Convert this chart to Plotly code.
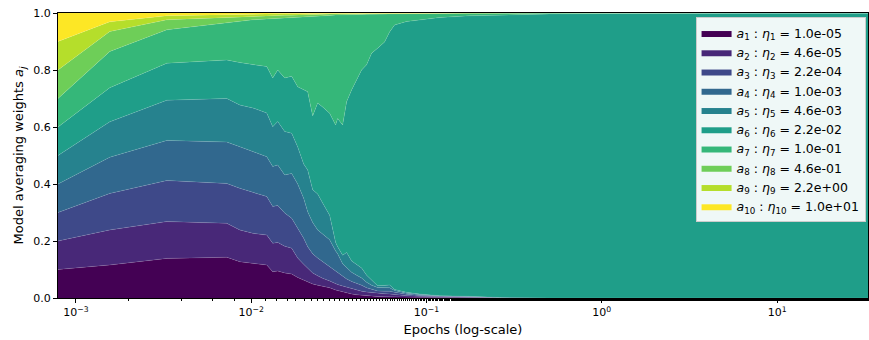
import math
import plotly.graph_objects as go

# Epochs (x positions of the sampled weights)
epochs = [0.00079, 0.00156, 0.0033, 0.00725, 0.0086, 0.0102, 0.01226, 0.01326, 0.01416, 0.01552,
          0.01701, 0.01841, 0.01991, 0.02099, 0.02241, 0.02393, 0.02555, 0.02801, 0.0303, 0.03111,
          0.03322, 0.03501, 0.03738, 0.03993, 0.04263, 0.04551, 0.0486, 0.05257, 0.05763, 0.06154,
          0.06572, 0.07691, 0.09123, 0.1186, 0.1758, 0.2606, 0.5023, 1.258, 3.594, 33.0]

a1 = [.1, .116, .139, .143, .127, .122, .116, .092, .095, .088, .084, .072, .063, .057, .049, .045, .042, .036, .028, .026,
      .021, .018, .014, .011, .009, .008, .006, .005, .004, .004, .004, .003, .002, .002, .001, .0005, .0, .0, .0, .0]
a2 = [.1, .123, .129, .119, .112, .105, .105, .100, .100, .094, .091, .068, .055, .047, .039, .033, .027, .024, .022, .021,
      .021, .020, .018, .017, .015, .013, .013, .011, .011, .010, .008, .005, .004, .002, .002, .0005, .0, .0, .0, .0]
a3 = [.1, .128, .144, .140, .146, .143, .135, .129, .130, .116, .105, .105, .092, .076, .067, .062, .058, .050, .046, .043,
      .033, .029, .026, .024, .021, .015, .011, .009, .009, .010, .008, .005, .003, .002, .001, .0005, .0, .0, .0, .0]
a4 = [.1, .127, .141, .145, .146, .143, .140, .140, .142, .134, .157, .155, .140, .123, .110, .099, .098, .094, .069, .065,
      .045, .038, .032, .028, .025, .019, .015, .012, .012, .012, .006, .004, .003, .001, .001, .0, .0, .0, .0, .0]
a5 = [.1, .124, .141, .153, .146, .154, .153, .140, .152, .152, .141, .130, .120, .146, .115, .126, .108, .086, .030, .025,
      .030, .055, .040, .036, .035, .025, .017, .006, .008, .010, .004, .003, .002, .001, .001, .0005, .0003, .0, .0, .0]
a6 = [.1, .120, .130, .135, .149, .151, .163, .171, .181, .188, .200, .211, .260, .275, .259, .319, .337, .358, .412, .450,
      .457, .529, .600, .649, .695, .738, .797, .833, .854, .887, .928, .950, .961, .976, .984, .991, .9962, .9985, .9993, .9993]
a7 = [.1, .127, .117, .130, .146, .158, .167, .208, .181, .210, .205, .243, .255, .262, .348, .304, .319, .343, .386, .363,
      .387, .305, .265, .230, .195, .178, .137, .120, .099, .064, .039, .028, .023, .014, .009, .006, .003, .001, .0005, .0005]
a8 = [.1, .070, .035, .020, .015, .013, .011, .011, .010, .010, .009, .009, .008, .008, .007, .007, .006, .005, .004, .004,
      .003, .003, .003, .003, .003, .002, .002, .002, .001, .002, .002, .001, .001, .001, .0005, .0005, .0003, .0003, .0001, .0001]
a9 = [.1, .034, .014, .010, .008, .007, .006, .006, .006, .005, .005, .005, .005, .004, .004, .003, .003, .003, .002, .002,
      .002, .002, .001, .001, .001, .001, .001, .001, .001, .0005, .0005, .0005, .0005, .0005, .0003, .0003, .0001, .0001, .0001, .0001]
a10 = [.1, .031, .010, .005, .005, .004, .004, .003, .003, .003, .003, .002, .002, .002, .002, .002, .002, .001, .001, .001,
       .001, .001, .001, .001, .001, .001, .001, .001, .001, .0005, .0005, .0005, .0005, .0005, .0002, .0002, .0001, .0001, .0, .0]

series = [a1, a2, a3, a4, a5, a6, a7, a8, a9, a10]
etas = ["1.0e-05", "4.6e-05", "2.2e-04", "1.0e-03", "4.6e-03", "2.2e-02", "1.0e-01", "4.6e-01", "2.2e+00", "1.0e+01"]
colors = ["#440154", "#482878", "#3e4989", "#31688e", "#26828e", "#1f9e89", "#35b779", "#6ece58", "#b5de2b", "#fde725"]

x_tickvals = [1e-3, 1e-2, 1e-1, 1e0, 1e1]
x_ticktext = ["10<sup>\u22123</sup>", "10<sup>\u22122</sup>", "10<sup>\u22121</sup>", "10<sup>0</sup>", "10<sup>1</sup>"]
y_tickvals = [0.0, 0.2, 0.4, 0.6, 0.8, 1.0]

fig = go.Figure()
for i, (vals, eta, col) in enumerate(zip(series, etas, colors)):
    k = i + 1
    fig.add_trace(go.Scatter(
        x=epochs, y=vals, mode="lines", stackgroup="one",
        line=dict(width=0.5, color="rgba(255,255,255,0.2)"),
        fillcolor=col,
        name=f"<i>a</i><sub>{k}</sub> : <i>\u03b7</i><sub>{k}</sub> = {eta}",
    ))

fig.update_layout(
    width=869, height=340,
    margin=dict(l=58, r=1, t=13, b=42),
    paper_bgcolor="white", plot_bgcolor="white",
    font=dict(family="DejaVu Sans", size=11, color="black"),
    showlegend=True,
    legend=dict(
        x=0.997, y=0.985, xanchor="right", yanchor="top",
        bgcolor="rgba(255,255,255,0.93)", bordercolor="#cccccc", borderwidth=1,
        traceorder="normal", font=dict(size=12.5), itemwidth=30,
        tracegroupgap=0,
    ),
    xaxis=dict(
        type="log", range=[math.log10(0.00079), math.log10(33.0)],
        tickvals=x_tickvals, ticktext=x_ticktext,
        ticks="outside", ticklen=4, tickcolor="black",
        minor=dict(ticks="outside", ticklen=2, tickcolor="black", showgrid=False),
        showline=True, linecolor="black", linewidth=1, mirror=True,
        showgrid=False, zeroline=False,
        title=dict(text="Epochs (log-scale)", standoff=6),
    ),
    yaxis=dict(
        range=[0, 1], tickvals=y_tickvals, tickformat=".1f",
        ticks="outside", ticklen=4, tickcolor="black",
        showline=True, linecolor="black", linewidth=1, mirror=True,
        showgrid=False, zeroline=False,
        title=dict(text="Model averaging weights <i>a<sub>j</sub></i>", standoff=6),
    ),
)

fig.write_html("out.html")
